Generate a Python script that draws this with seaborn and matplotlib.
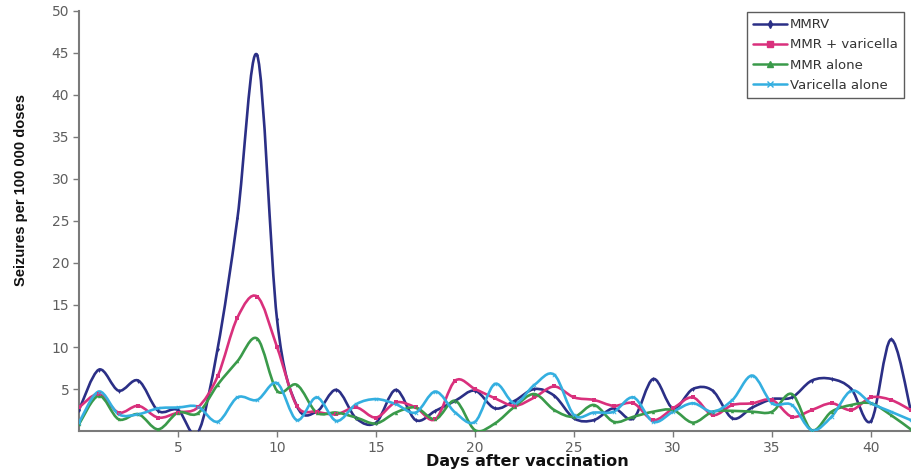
import numpy as np
import matplotlib
matplotlib.use("Agg")
import matplotlib.pyplot as plt
from matplotlib.path import Path
from matplotlib.patches import PathPatch
from matplotlib.lines import Line2D
import seaborn as sns

# Seizure rates (per 100 000 doses) by day after vaccination
days = list(range(0, 43))

mmrv = [2.5, 7.3, 4.8, 6.0, 2.4, 2.5, -0.2, 9.8, 25.3, 44.7, 13.3, 3.0, 2.3, 4.9,
        1.5, 1.0, 4.9, 1.3, 2.4, 3.6, 4.8, 2.7, 3.6, 5.0, 4.2, 1.5, 1.3, 2.7, 1.5,
        6.2, 2.7, 5.0, 4.8, 1.5, 2.8, 3.8, 4.0, 6.0, 6.2, 5.0, 1.2, 10.9, 2.5]

mmr_varicella = [2.8, 4.4, 2.2, 3.0, 1.6, 2.2, 2.8, 6.5, 13.5, 16.0, 10.0, 3.0, 2.3,
                 2.0, 2.8, 1.6, 3.4, 2.8, 1.4, 6.0, 5.0, 3.9, 3.0, 4.0, 5.3, 4.0,
                 3.7, 3.0, 3.3, 1.3, 2.7, 4.0, 1.9, 3.1, 3.3, 3.7, 1.7, 2.5, 3.3,
                 2.5, 4.0, 3.7, 2.5]

mmr_alone = [0.8, 4.2, 1.4, 2.0, 0.2, 2.2, 2.1, 5.5, 8.3, 11.0, 4.8, 5.5, 2.2, 2.2,
             1.6, 0.9, 2.2, 2.8, 1.4, 3.6, 0.1, 0.9, 2.9, 4.4, 2.5, 1.7, 3.1, 1.1,
             1.7, 2.3, 2.5, 1.0, 2.3, 2.4, 2.3, 2.3, 4.4, 0.1, 2.3, 3.1, 3.3, 1.9,
             0.2]

varicella_alone = [1.0, 4.7, 2.0, 2.0, 2.7, 2.8, 2.9, 1.1, 4.0, 3.7, 5.7, 1.3, 4.0,
                   1.2, 3.2, 3.8, 3.2, 2.2, 4.7, 2.2, 1.1, 5.6, 3.3, 5.5, 6.7, 1.9,
                   2.2, 2.3, 4.0, 1.1, 2.3, 3.3, 2.3, 3.7, 6.6, 3.3, 3.1, 0.1, 1.7,
                   4.8, 3.3, 2.3, 1.3]

series_names = ["MMRV", "MMR + varicella", "MMR alone", "Varicella alone"]
series_values = [mmrv, mmr_varicella, mmr_alone, varicella_alone]
colors = ["#2b2f86", "#d9307c", "#3a9a4a", "#34afe0"]
markers = ["d", "s", "^", "x"]

x_ticks = [5, 10, 15, 20, 25, 30, 35, 40]
y_ticks = [5, 10, 15, 20, 25, 30, 35, 40, 45, 50]


def smooth_path(xs, ys):
    """Cubic Bezier path through every point (Catmull-Rom style tangents)."""
    pts = np.column_stack([xs, ys]).astype(float)
    n = len(pts)
    verts = [pts[0]]
    codes = [Path.MOVETO]
    for i in range(n - 1):
        p0 = pts[i - 1] if i > 0 else pts[i]
        p1 = pts[i]
        p2 = pts[i + 1]
        p3 = pts[i + 2] if i + 2 < n else pts[i + 1]
        c1 = p1 + (p2 - p0) / 6.0
        c2 = p2 - (p3 - p1) / 6.0
        verts += [c1, c2, p2]
        codes += [Path.CURVE4] * 3
    return Path(verts, codes)


sns.set_theme(style="white")
plt.rcParams["font.family"] = ["DejaVu Sans"]

fig = plt.figure(figsize=(9.12, 4.76), dpi=100)
ax = fig.add_axes([0.0866, 0.0945, 0.912, 0.8825])

for name, vals, col, mk in zip(series_names, series_values, colors, markers):
    patch = PathPatch(smooth_path(days, vals), facecolor="none", edgecolor=col,
                      lw=1.9, capstyle="round", joinstyle="round", zorder=3)
    ax.add_patch(patch)
    sns.scatterplot(x=days, y=vals, ax=ax, color=col, marker=mk, s=6,
                    linewidth=0.6 if mk == "x" else 0, edgecolor=col,
                    legend=False, zorder=4)

ax.set_xlim(0, 42)
ax.set_ylim(0, 50)
ax.set_xticks(x_ticks)
ax.set_yticks(y_ticks)
ax.tick_params(axis="both", which="both", direction="out", length=4, width=1,
               color="#7a7a7a", labelcolor="#5e5e5e", labelsize=10, pad=3,
               bottom=True, left=True)

for side in ["top", "right"]:
    ax.spines[side].set_visible(False)
for side in ["left", "bottom"]:
    ax.spines[side].set_color("#7a7a7a")
    ax.spines[side].set_linewidth(1.5)

ax.set_xlabel("Days after vaccination", fontsize=11.5, fontweight="bold",
              color="#111111")
ax.xaxis.set_label_coords(0.539, -0.055)
ax.set_ylabel("Seizures per 100 000 doses", fontsize=10.5, fontweight="bold",
              color="#111111",
              family=["Liberation Sans Narrow", "Liberation Sans", "DejaVu Sans"])
ax.yaxis.set_label_coords(-0.061, 0.574)

handles = [Line2D([0], [0], color=c, lw=1.8, marker=m, markersize=4,
                  markeredgewidth=1.0, markeredgecolor=c)
           for c, m in zip(colors, markers)]
leg = ax.legend(handles, series_names, loc="upper right",
                bbox_to_anchor=(0.993, 1.0), frameon=True, fancybox=False,
                edgecolor="#333333", fontsize=9.5, handlelength=2.6,
                handletextpad=0.2, borderpad=0.45, labelspacing=0.55,
                borderaxespad=0.1)
leg.get_frame().set_linewidth(1.0)
for t in leg.get_texts():
    t.set_color("#333333")

fig.savefig("out.png", dpi=100)
